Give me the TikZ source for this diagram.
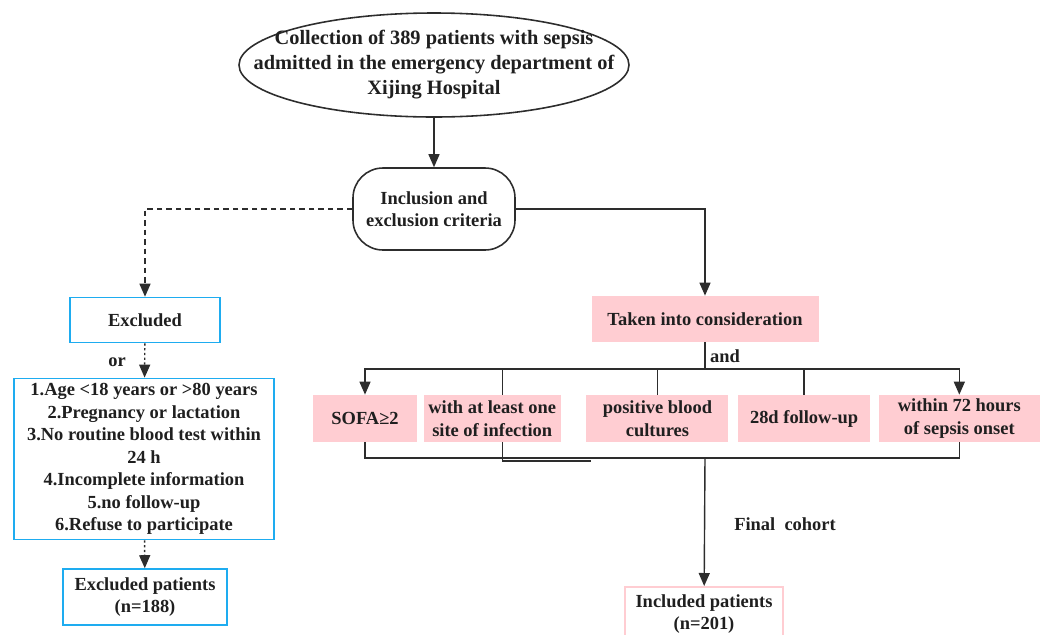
\documentclass[tikz,border=0pt]{standalone}
\usepackage{fontspec}
\setmainfont{Liberation Serif}[BoldFont={Liberation Serif Bold}]
\usetikzlibrary{arrows.meta, positioning, shapes.geometric, calc}
\definecolor{linegray}{RGB}{45,45,45}
\definecolor{exblue}{RGB}{30,172,240}
\definecolor{incpink}{RGB}{255,205,210}
\tikzset{
  flowfont/.style={font=\fontsize{10.5}{12.8}\selectfont\bfseries, text=black!88},
  exbox/.style={draw=exblue, line width=0.9pt, align=center, flowfont, inner sep=1mm,
      minimum width=#1},
  critbox/.style={fill=incpink, draw=none, align=center, flowfont, inner sep=0.5mm,
      minimum height=9.4mm, minimum width=#1},
  myarrow/.style={-{Triangle[length=2.6mm,width=2.2mm]}, line width=0.8pt, linegray},
  mylink/.style={line width=0.8pt, linegray},
  mydash/.style={dash pattern=on 3.2pt off 2.2pt},
  mydot/.style={dash pattern=on 1.3pt off 1.4pt},
  mylbl/.style={flowfont},
}

\begin{document}
\begin{tikzpicture}[x=0.2mm, y=-0.2mm]
      \useasboundingbox (0,0) rectangle (1043,634);

      % === Top: collection and criteria ===
      \node[ellipse, draw=linegray, line width=0.9pt, minimum width=78mm, minimum height=20.8mm,
            inner xsep=-20mm, inner ysep=-6mm, align=center,
            font=\fontsize{11.6}{14.2}\selectfont\bfseries, text=black!88] (collect) at (434,65)
            {Collection of 389 patients with sepsis\\admitted in the emergency department of\\Xijing Hospital};
      \node[draw=linegray, line width=0.9pt, rounded corners=6mm, minimum width=32.4mm,
            minimum height=16.4mm, align=center, flowfont] (incl) at (434,209)
            {Inclusion and\\exclusion criteria};

      \draw[myarrow] (collect) -- (incl);

      % === Left branch: excluded ===
      \node[exbox=30mm, minimum height=9mm] (excl) at (145,320) {Excluded};
      \node[exbox=52mm, minimum height=31.6mm] (reasons) at (144,459)
            {1.Age <18 years or >80 years\\2.Pregnancy or lactation\\3.No routine blood test within\\24 h\\4.Incomplete information\\5.no follow-up\\6.Refuse to participate};
      \node[exbox=32.8mm, minimum height=11.2mm] (exclpat) at (145,597) {Excluded patients\\(n=188)};

      \draw[myarrow, mydash] (incl.west) -| (excl.north);
      \draw[myarrow, mydot] (excl) -- (reasons);
      \draw[myarrow, mydot] (reasons) -- (exclpat);
      \node[mylbl] at (117,362) {or};

      % === Right branch: taken into consideration ===
      \node[critbox=45.4mm, minimum height=9.2mm] (taken) at (705,319) {Taken into consideration};
      \draw[myarrow] (incl.east) -| (taken.north);

      \node[critbox=20.8mm] (sofa) at (365,418.5) {SOFA≥2};
      \node[critbox=27.4mm, right=1.2mm of sofa] (infect) {with at least one\\site of infection};
      \node[critbox=28.4mm, right=5mm of infect] (blood) {positive blood\\cultures};
      \node[critbox=26.4mm, right=1.8mm of blood] (follow) {28d follow-up};
      \node[critbox=32.2mm, right=1.6mm of follow] (onset) {within 72 hours\\of sepsis onset};

      \coordinate (andpt) at (705,369);
      \draw[mylink] (taken) -- (andpt);
      \node[mylbl] at (725,356) {and};
      \draw[myarrow] (andpt) -| (sofa.north);
      \draw[myarrow] (andpt) -| (onset.north);
      \draw[mylink] ([xshift=2mm]infect.north |- andpt) -- ([xshift=2mm]infect.north);
      \draw[mylink] (blood.north |- andpt) -- (blood.north);
      \draw[mylink] (follow.north |- andpt) -- (follow.north);

      % === Final cohort ===
      \coordinate (joinpt) at (705,458);
      \coordinate (stub) at (591,461);
      \draw[mylink] (sofa.south) |- (onset.south |- joinpt) -- (onset.south);
      \draw[mylink] ([xshift=2mm]infect.south) |- (stub);

      \node[draw=incpink, line width=0.9pt, minimum width=31.6mm, minimum height=11mm,
            align=center, flowfont, anchor=north] (included) at (704,586) {Included patients\\(n=201)};
      \draw[myarrow] (joinpt) -- (included);
      \node[mylbl] at (785,524) {Final~~cohort};
    \end{tikzpicture}
\end{document}
